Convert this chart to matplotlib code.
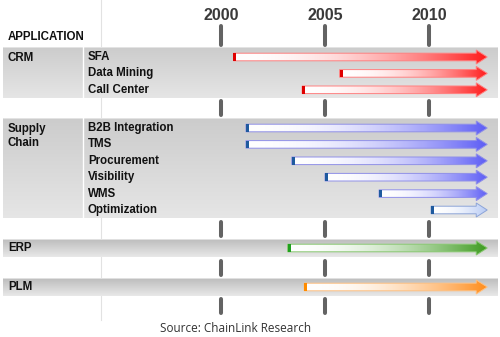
import numpy as np
import matplotlib.pyplot as plt
from matplotlib.colors import to_rgb
from matplotlib.patches import Polygon
from matplotlib.transforms import blended_transform_factory

plt.rcParams['font.family'] = ['Liberation Sans', 'DejaVu Sans']

# Timeline data: application rows, start year of adoption, grouping
groups = ['CRM', 'Supply\nChain', 'ERP', 'PLM']
group_rows = [
    ['SFA', 'Data Mining', 'Call Center'],
    ['B2B Integration', 'TMS', 'Procurement', 'Visibility', 'WMS', 'Optimization'],
    [''],
    [''],
]
start_years = [
    [2000.6, 2005.7, 2003.9],
    [2001.2, 2001.2, 2003.4, 2005.0, 2007.6, 2010.1],
    [2003.2],
    [2004.0],
]
end_year = 2012.8
year_ticks = [2000, 2005, 2010]

# arrow colours per group: (fill, start cap, outline)
group_colors = [
    ['#ff1a1a', '#e00000', '#ff8080'],
    ['#5c5cf5', '#1f5a9e', '#9090e8'],
    ['#3c9a1e', '#1fa01f', '#88c870'],
    ['#ff8c1a', '#ff8c00', '#ffc080'],
]
light_blue = ['#b4c8f4', '#1f5a9e', '#8ca4d8']

# layout (pixels, figure is 500 x 337)
W, H = 500, 337
px_per_year = 20.8
x0_year = 2000 - 221 / px_per_year
band_spans = [(47, 98), (118, 218), (239, 257), (278, 296)]
row_step = 16.4
band_left, band_right = 3, 497
divider_px = 83
label_size = 8.3


def px2year(px):
    return x0_year + px / px_per_year


fig = plt.figure(figsize=(W / 100, H / 100), dpi=100)
ax = fig.add_axes([0, 0, 1, 1])
ax.set_xlim(px2year(0), px2year(W))
ax.set_ylim(H, 0)
ax.axis('off')
fig.patch.set_facecolor('white')

xa = blended_transform_factory(ax.transAxes, ax.transData)

# faint grid line behind the table
ax.plot([px2year(101)] * 2, [0, 320], color='#e2e2e2', lw=0.8, zorder=0)

# grey bands, shaded top to bottom
for gi, (top, bot) in enumerate(band_spans):
    if bot - top > 30:
        c_top, c_bot = np.array([0.80, 0.80, 0.80]), np.array([0.90, 0.90, 0.90])
    else:
        c_top, c_bot = np.array([0.74, 0.74, 0.74]), np.array([0.91, 0.91, 0.91])
    grad = np.linspace(0, 1, 64)[:, None, None]
    img = np.repeat(c_top + (c_bot - c_top) * grad, 2, axis=1)
    ax.imshow(img, extent=[px2year(band_left), px2year(band_right), bot, top],
              aspect='auto', interpolation='bilinear', zorder=1)
    ax.plot([px2year(band_left), px2year(band_right)], [top, top],
            color='#e8e8e8', lw=0.6, zorder=1.5)
    if len(group_rows[gi]) > 1:
        ax.plot([px2year(divider_px)] * 2, [top, bot], color='white', lw=1, zorder=1.5)

# year tick marks between bands
tick_segments = [(26, 45), (101, 115), (222, 236), (261, 275), (299, 313)]
for yr in year_ticks:
    for a, b in tick_segments:
        ax.plot([yr, yr], [a, b], color='#636363', lw=2.9,
                solid_capstyle='round', zorder=2)
    ax.text(yr, 16, str(yr), ha='center', va='center', fontsize=11.5,
            fontweight='bold', color='#3a3a3a')

ax.text(8 / W, 37, 'APPLICATION', transform=xa, ha='left', va='center',
        fontsize=label_size, fontweight='bold', color='#111111')

bar_h = 3.8
head_h = 7.0
head_len = 11 / px_per_year


def draw_arrow(start, yc, fill, cap, edge):
    body_end = end_year - head_len
    pts = [(start, yc - bar_h), (body_end, yc - bar_h), (body_end, yc - head_h),
           (end_year, yc), (body_end, yc + head_h), (body_end, yc + bar_h),
           (start, yc + bar_h)]
    # white-to-colour fade along the arrow
    w = np.linspace(0, 1, 200) ** 2.0
    row = (1 - w)[:, None] + w[:, None] * np.array(to_rgb(fill))
    img = np.repeat(row[None, :, :], 2, axis=0)
    im = ax.imshow(img, extent=[start, end_year, yc + head_h, yc - head_h],
                   aspect='auto', interpolation='bilinear', zorder=3)
    poly = Polygon(pts, closed=True, facecolor='none', edgecolor=edge,
                   lw=0.7, zorder=4)
    ax.add_patch(poly)
    im.set_clip_path(poly)
    cap_w = 3 / px_per_year
    ax.add_patch(Polygon([(start, yc - bar_h), (start + cap_w, yc - bar_h),
                          (start + cap_w, yc + bar_h), (start, yc + bar_h)],
                         closed=True, facecolor=cap, edgecolor='none', zorder=5))


for gi, (top, bot) in enumerate(band_spans):
    rows = group_rows[gi]
    if len(rows) > 1:
        first_y = top + 10
        ax.text(8 / W, first_y - 5, groups[gi], transform=xa, ha='left',
                va='top', fontsize=label_size, fontweight='bold',
                color='#111111', linespacing=1.25)
    else:
        first_y = (top + bot) / 2
        ax.text(8 / W, first_y, groups[gi], transform=xa, ha='left',
                va='center', fontsize=label_size, fontweight='bold',
                color='#111111')
    for ri, name in enumerate(rows):
        yc = first_y + ri * row_step
        if name:
            ax.text(88 / W, yc, name, transform=xa, ha='left', va='center',
                    fontsize=label_size, fontweight='bold', color='#111111')
        colors = light_blue if name == 'Optimization' else group_colors[gi]
        draw_arrow(start_years[gi][ri], yc, *colors)

ax.text(236 / W, 329, 'Source: ChainLink Research', transform=xa,
        ha='center', va='center', fontsize=8.5, color='#333333',
        family=['Open Sans', 'DejaVu Sans'])

fig.savefig('out.png', dpi=100)
